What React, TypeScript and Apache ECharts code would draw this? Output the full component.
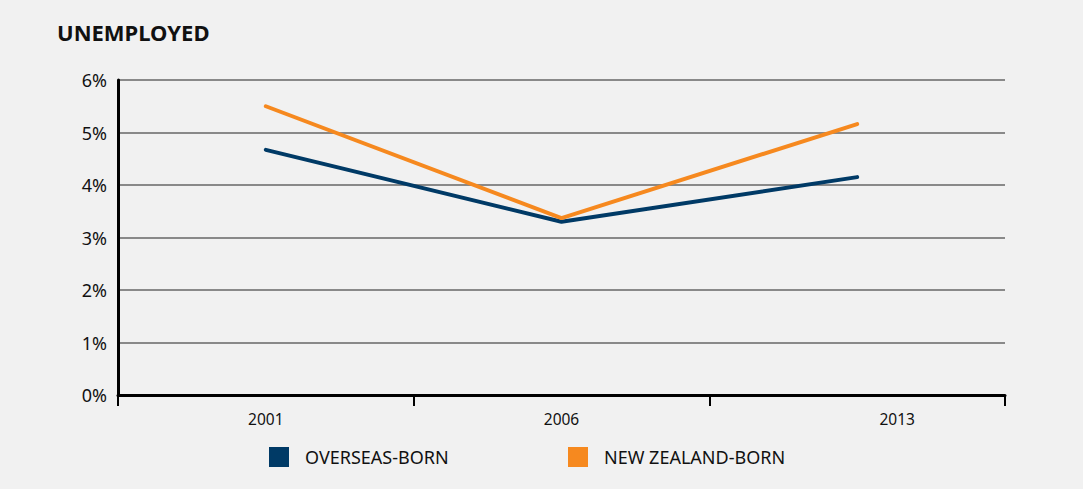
import React, { useEffect, useRef } from "react";
import * as echarts from "echarts";

const years = ["2001", "2006", "2013"];
const overseasBorn = [4.67, 3.3, 4.15];
const nzBorn = [5.5, 3.37, 5.16];
const yTicks = [0, 1, 2, 3, 4, 5, 6];
const seriesNames = ["OVERSEAS-BORN", "NEW ZEALAND-BORN"];
const seriesColors = ["#003a66", "#f6891f"];

const FONT = "'Noto Sans', 'Open Sans', sans-serif";

export default function App() {
  const ref = useRef<HTMLDivElement>(null);
  useEffect(() => {
    if (!ref.current) return;
    const chart = echarts.init(ref.current, null, { renderer: "svg" });
    const legendLefts = [269, 568];
    chart.setOption({
      animation: false,
      backgroundColor: "#f1f1f1",
      title: {
        text: "UNEMPLOYED",
        left: 52,
        top: 16,
        textStyle: { fontFamily: FONT, fontSize: 22, fontWeight: "bold", color: "#111" },
      },
      legend: seriesNames.map((n, i) => ({
        left: legendLefts[i],
        top: 447,
        padding: 0,
        itemWidth: 20,
        itemHeight: 20,
        icon: "rect",
        textStyle: { fontFamily: FONT, fontSize: 18, color: "#111", padding: [0, 0, 0, 11] },
        data: [n],
      })),
      grid: { left: 118, right: 78, top: 80, bottom: 94 },
      xAxis: {
        type: "category",
        data: years,
        boundaryGap: true,
        axisLine: { show: true, lineStyle: { color: "#000", width: 3 } },
        axisTick: { show: true, length: 11, lineStyle: { color: "#000", width: 2 } },
        axisLabel: {
          margin: 16,
          fontFamily: FONT,
          fontSize: 15.5,
          color: "#111",
          formatter: (v: string, i: number) => (i === years.length - 1 ? `{shift|${v}}` : v),
          rich: { shift: { padding: [0, 0, 0, 80], fontFamily: FONT, fontSize: 15.5, color: "#111" } },
        },
        splitLine: { show: false },
      },
      yAxis: {
        type: "value",
        min: yTicks[0],
        max: yTicks[yTicks.length - 1],
        interval: 1,
        axisLine: { show: true, lineStyle: { color: "#000", width: 3 } },
        axisTick: { show: false },
        axisLabel: {
          margin: 11,
          fontFamily: FONT,
          fontSize: 18,
          color: "#111",
          formatter: (v: number) => `${v}%`,
        },
        splitLine: { show: true, lineStyle: { color: "#666", width: 1.5 } },
      },
      series: [
        {
          name: seriesNames[0],
          type: "line",
          data: overseasBorn,
          symbol: "none",
          color: seriesColors[0],
          lineStyle: { width: 4, color: seriesColors[0], cap: "round" },
        },
        {
          name: seriesNames[1],
          type: "line",
          data: nzBorn,
          symbol: "none",
          color: seriesColors[1],
          lineStyle: { width: 4, color: seriesColors[1], cap: "round" },
        },
      ],
    });
    return () => chart.dispose();
  }, []);
  return (
    <div
      ref={ref}
      style={{ position: "fixed", left: 0, top: 0, width: 1083, height: 489 }}
    />
  );
}
